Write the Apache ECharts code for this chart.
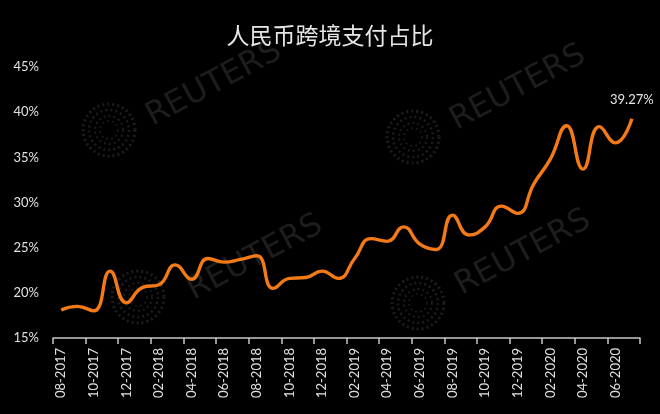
<!DOCTYPE html>
<html>
<head>
<meta charset="utf-8">
<script src="https://cdn.jsdelivr.net/npm/echarts@6/dist/echarts.min.js"></script>
<style>html,body{margin:0;padding:0;background:#000;}#c{width:660px;height:414px;}</style>
</head>
<body>
<div id="c"></div>
<script>
const titleText = '人民币跨境支付占比';
const categories = ['08-2017','09-2017','10-2017','11-2017','12-2017',
  '01-2018','02-2018','03-2018','04-2018','05-2018','06-2018','07-2018','08-2018','09-2018','10-2018','11-2018','12-2018',
  '01-2019','02-2019','03-2019','04-2019','05-2019','06-2019','07-2019','08-2019','09-2019','10-2019','11-2019','12-2019',
  '01-2020','02-2020','03-2020','04-2020','05-2020','06-2020','07-2020'];
const shareValues = [18.1,18.5,18.0,22.4,18.9,
  20.6,20.9,23.1,21.5,23.8,23.4,23.7,24.1,20.5,21.6,21.7,22.4,
  21.6,23.8,26.0,25.7,27.3,25.4,24.8,28.6,26.4,27.3,29.6,28.8,
  32.1,34.8,38.5,33.7,38.4,36.6,39.27];
const yTicks = {min: 15, max: 45, interval: 5};

const seriesData = shareValues.map((v, i) => i === shareValues.length - 1
  ? {value: v, label: {show: true, position: 'top', distance: 12, formatter: p => p.value.toFixed(2) + '%',
      color: '#e6e6e6', fontSize: 13, fontFamily: 'Lato'}}
  : v);

const wmColor = '#1d1d1d';
function wmText(x, y) {
  return {type: 'text', x: x, y: y, rotation: Math.PI * 28 / 180, z: -10, silent: true,
    style: {text: 'REUTERS', fill: wmColor, font: '32px "DejaVu Sans"', align: 'center', verticalAlign: 'middle'}};
}
function wmLogo(x, y) {
  const rings = [];
  [26, 20, 14, 9].forEach((r, k) => {
    rings.push({type: 'circle', shape: {cx: x, cy: y, r: r}, z: -10, silent: true,
      style: {fill: 'none', stroke: wmColor, lineWidth: 3 - k * 0.5, lineDash: [2, 3]}});
  });
  return {type: 'group', children: rings};
}

const chart = echarts.init(document.getElementById('c'), null, {renderer: 'canvas'});
chart.setOption({
  backgroundColor: '#000',
  animation: false,
  title: {text: titleText, left: 'center', top: 19,
    textStyle: {color: '#e6e6e6', fontSize: 23, fontWeight: 'normal', fontFamily: 'Noto Sans CJK SC'}},
  graphic: [
    wmText(214, 84), wmText(518, 88), wmText(523, 253), wmText(255, 258),
    wmLogo(109, 130), wmLogo(413, 137), wmLogo(418, 303), wmLogo(138, 297)
  ],
  grid: {left: 53, right: 20, top: 67, bottom: 76},
  xAxis: {
    type: 'category', data: categories, boundaryGap: true,
    axisLine: {lineStyle: {color: '#c8c8c8', width: 1.5}},
    axisTick: {show: true, interval: 1, length: 6, lineStyle: {color: '#c8c8c8', width: 1.5}},
    axisLabel: {interval: 1, rotate: 90, margin: 10, color: '#e0e0e0', fontSize: 13, fontFamily: 'Lato'},
    splitLine: {show: false}
  },
  yAxis: {
    type: 'value', min: yTicks.min, max: yTicks.max, interval: yTicks.interval,
    axisLine: {show: false}, axisTick: {show: false}, splitLine: {show: false},
    axisLabel: {formatter: '{value}%', margin: 14, color: '#e0e0e0', fontSize: 13, fontFamily: 'Lato'}
  },
  series: [{
    type: 'line', data: seriesData, smooth: 0.5, symbol: 'circle', symbolSize: 0, showSymbol: true,
    lineStyle: {color: '#f37a16', width: 3.4}, itemStyle: {color: '#f37a16'}
  }]
});
</script>
</body>
</html>
